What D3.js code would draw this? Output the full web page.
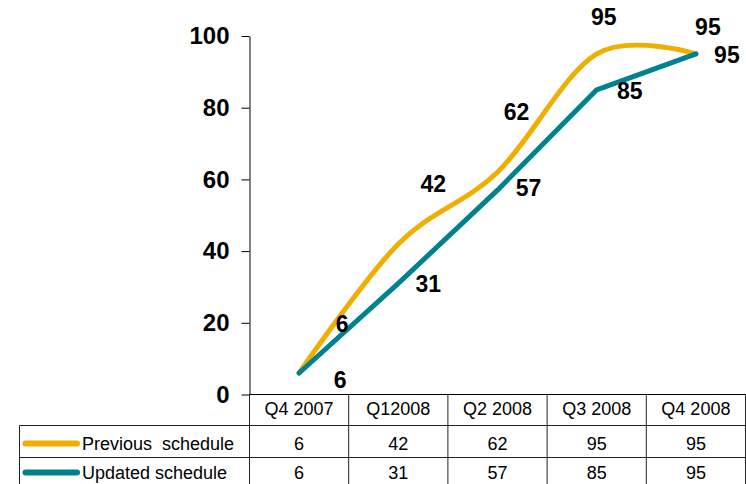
<!DOCTYPE html>
<html>
<head>
<meta charset="utf-8">
<script src="https://cdn.jsdelivr.net/npm/d3@7"></script>
<style>
  body { margin: 0; background: #fff; }
  svg { display: block; font-family: 'Liberation Sans', Arial, sans-serif; }
</style>
</head>
<body>
<div id="chart"></div>
<script>
"use strict";
// Schedule comparison: line chart with an Excel-style data table underneath.

const categories = ['Q4 2007', 'Q12008', 'Q2 2008', 'Q3 2008', 'Q4 2008'];
const previousSchedule = [6, 42, 62, 95, 95];
const updatedSchedule = [6, 31, 57, 85, 95];
const yTicks = [0, 20, 40, 60, 80, 100];
const seriesNames = ['Previous schedule', 'Updated schedule'];

// label nudges (px from the point) as hand-placed in the original
const prevLabelNudge = [[43, -49], [35, -60], [19, -60], [7, -37], [12, -27]];
const updLabelNudge = [[41, 7], [30, 1], [31, -2], [33, 1], [31, 1]];

const W = 746, H = 484;
const ORANGE = '#f0ae00', TEAL = '#00818f', GRID = '#222';

const series = [
  { name: seriesNames[0], values: previousSchedule, color: ORANGE, curve: d3.curveCardinal.tension(0), nudge: prevLabelNudge },
  { name: seriesNames[1], values: updatedSchedule, color: TEAL, curve: d3.curveLinear, nudge: updLabelNudge },
];

const svg = d3.select('#chart').append('svg').attr('width', W).attr('height', H);

const x = d3.scaleBand().domain(categories).range([249.5, 745.5]);
const y = d3.scaleLinear().domain([0, 100]).range([394.5, 36]);
const cx = (c) => x(c) + x.bandwidth() / 2;

// ---- y axis ----
const yAxis = svg.append('g').attr('transform', 'translate(249.5,0)')
  .call(d3.axisLeft(y).tickValues(yTicks).tickSize(8).tickSizeOuter(0).tickPadding(12));
yAxis.select('.domain').attr('stroke', '#000');
yAxis.selectAll('.tick line').attr('stroke', '#000');
yAxis.selectAll('.tick text')
  .attr('font-size', 24).attr('font-weight', 'bold').attr('fill', '#000')
  .attr('font-family', "'Liberation Sans', Arial, sans-serif");

// ---- lines ----
series.forEach((s) => {
  const line = d3.line().x((d, i) => cx(categories[i])).y((d) => y(d)).curve(s.curve);
  svg.append('path').datum(s.values)
    .attr('d', line).attr('fill', 'none').attr('stroke', s.color)
    .attr('stroke-width', 5).attr('stroke-linecap', 'round').attr('stroke-linejoin', 'round');
});

// ---- data labels ----
series.forEach((s) => {
  svg.append('g').selectAll('text').data(s.values).enter().append('text')
    .attr('x', (d, i) => cx(categories[i]) + s.nudge[i][0])
    .attr('y', (d, i) => y(d) + s.nudge[i][1])
    .attr('text-anchor', 'middle').attr('dominant-baseline', 'central')
    .attr('font-size', 23).attr('font-weight', 'bold').attr('fill', '#000')
    .text((d) => d);
});

// ---- data table ----
const tableTop = y(0), rowH = [31, 32, 32];
const rowY = [tableTop, tableTop + rowH[0], tableTop + rowH[0] + rowH[1], tableTop + rowH[0] + rowH[1] + rowH[2]];
const legendLeft = 19.5, right = x.range()[1];
const t = svg.append('g').attr('stroke', GRID).attr('stroke-width', 1);

// x axis / table top (header starts at the plot)
t.append('line').attr('x1', x.range()[0]).attr('x2', right).attr('y1', rowY[0]).attr('y2', rowY[0]).attr('stroke', '#000');
[1, 2].forEach((r) => t.append('line').attr('x1', legendLeft).attr('x2', right).attr('y1', rowY[r]).attr('y2', rowY[r]));
t.append('line').attr('x1', legendLeft).attr('x2', legendLeft).attr('y1', rowY[1]).attr('y2', H + 5);
categories.concat([null]).forEach((c) => {
  const xx = c ? x(c) : right;
  t.append('line').attr('x1', xx).attr('x2', xx).attr('y1', rowY[0]).attr('y2', H + 5);
});

const txtBase = [415, 449.5, 478.5];
svg.append('g').selectAll('text').data(categories).enter().append('text')
  .attr('x', (d) => cx(d)).attr('y', txtBase[0]).attr('text-anchor', 'middle')
  .attr('font-size', 18).attr('fill', '#000').text((d) => d);

series.forEach((s, r) => {
  const g = svg.append('g');
  const my = txtBase[r + 1] - 6;
  g.append('line').attr('x1', 25.5).attr('x2', 77).attr('y1', my).attr('y2', my)
    .attr('stroke', s.color).attr('stroke-width', 6).attr('stroke-linecap', 'round');
  g.append('text').attr('x', 82).attr('y', txtBase[r + 1]).attr('font-size', 18).attr('fill', '#000')
    .attr('word-spacing', r === 0 ? 5 : 0).text(s.name);
  g.selectAll('text.v').data(s.values).enter().append('text').attr('class', 'v')
    .attr('x', (d, i) => cx(categories[i])).attr('y', txtBase[r + 1]).attr('text-anchor', 'middle')
    .attr('font-size', 18).attr('fill', '#000').text((d) => d);
});
</script>
</body>
</html>
